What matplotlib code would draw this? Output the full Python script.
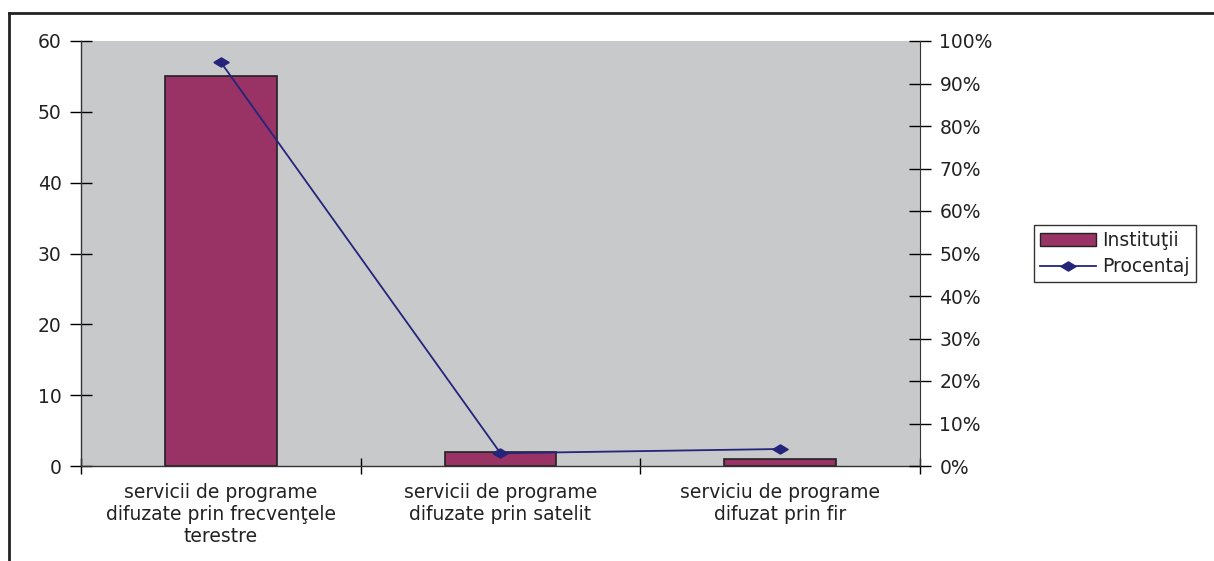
import matplotlib.pyplot as plt
from matplotlib.lines import Line2D
from matplotlib.ticker import PercentFormatter

plt.rcParams['font.family'] = ['DejaVu Sans']

categorii = ["servicii de programe\ndifuzate prin frecvenţele\nterestre",
             "servicii de programe\ndifuzate prin satelit",
             "serviciu de programe\ndifuzat prin fir"]
institutii = [55, 2, 1]
procentaj = [95, 3, 4]

fs = 13.5
romb = [(-1, 0), (0, 0.6), (1, 0), (0, -0.6), (-1, 0)]
fig = plt.figure(figsize=(12.14, 5.61), dpi=100)
ax = fig.add_axes([81/1214, 95/561, 839/1214, 425/561])
ax.set_facecolor('#C8C9CB')

x = range(len(categorii))
ax.bar(x, institutii, width=0.4, color='#993366', edgecolor='#222222', linewidth=1.2,
       label='Instituţii', zorder=2)
ax.set_xlim(-0.5, 2.5)
ax.set_ylim(0, 60)
ax.set_yticks(range(0, 61, 10))
ax.set_xticks([-0.5, 0.5, 1.5, 2.5], minor=False)
ax.set_xticklabels([])
ax.set_xticks(list(x), minor=True)
ax.set_xticklabels(categorii, minor=True, fontsize=fs, linespacing=1.22, color='#222222')
ax.tick_params(axis='x', which='minor', length=0, pad=12)
ax.tick_params(axis='x', which='major', direction='inout', length=12, width=1)
ax.tick_params(axis='y', direction='inout', length=16, width=1, labelsize=fs, pad=6,
               labelcolor='#222222')
for s in ['top', 'right']:
    ax.spines[s].set_visible(False)
for s in ['left', 'bottom']:
    ax.spines[s].set_linewidth(1)
    ax.spines[s].set_color('#333333')

ax2 = ax.twinx()
ax2.plot(x, procentaj, color='#24247A', linewidth=1.3, marker=romb, markersize=11,
         label='Procentaj', zorder=3)
ax2.set_ylim(0, 100)
ax2.set_yticks(range(0, 101, 10))
ax2.yaxis.set_major_formatter(PercentFormatter(decimals=0))
ax2.tick_params(axis='y', direction='inout', length=16, width=1, labelsize=fs, pad=6,
                labelcolor='#222222')
for s in ['top', 'left', 'bottom']:
    ax2.spines[s].set_visible(False)
ax2.spines['right'].set_color('#333333')

handles = [plt.Rectangle((0, 0), 1, 1, facecolor='#993366', edgecolor='#222222'),
           Line2D([0], [0], color='#24247A', marker=romb, markersize=11, linewidth=1.3)]
fig.legend(handles, ['Instituţii', 'Procentaj'], loc='upper left',
           bbox_to_anchor=(1034/1214, 1 - 225/561), fontsize=fs, frameon=True,
           fancybox=False, edgecolor='black', handlelength=3.0, borderpad=0.3,
           labelspacing=0.4, handletextpad=0.35, borderaxespad=0,
           labelcolor='#222222')

# chenarul exterior
fig.add_artist(Line2D([9/1214, 1], [1 - 13/561, 1 - 13/561], color='#222222', linewidth=2,
                      transform=fig.transFigure))
fig.add_artist(Line2D([9/1214, 9/1214], [0, 1 - 13/561], color='#222222', linewidth=2,
                      transform=fig.transFigure))

fig.savefig('out.png', dpi=100)
